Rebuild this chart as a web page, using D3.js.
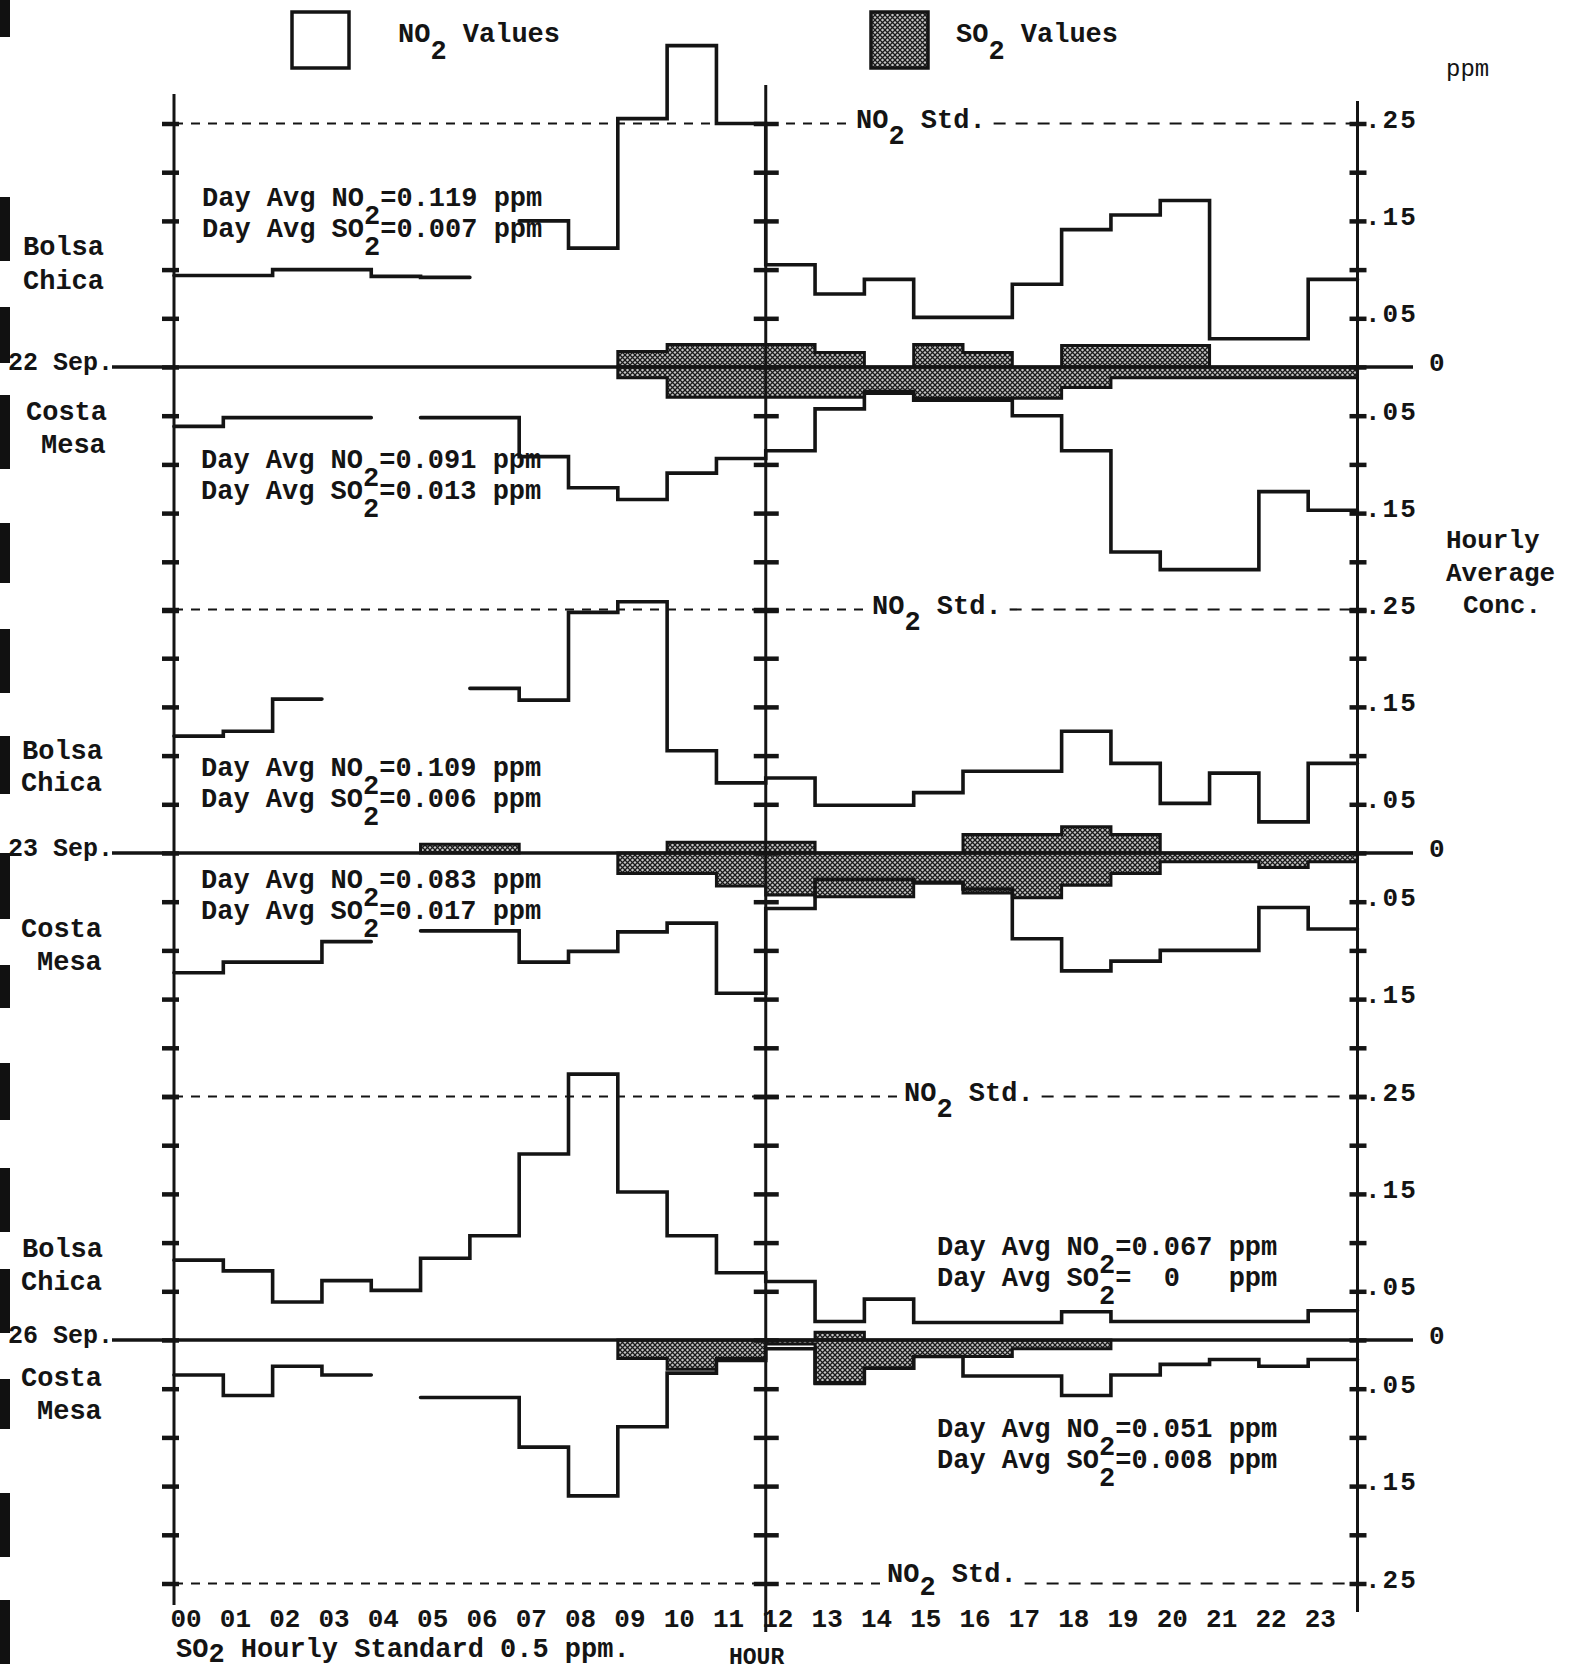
<!DOCTYPE html>
<html><head><meta charset="utf-8">
<script src="https://cdn.jsdelivr.net/npm/d3@7"></script>
<style>
body{margin:0;background:#fff;}
svg text{font-family:"Liberation Mono","Courier New",monospace;fill:#141414;font-weight:bold;}
</style></head><body>
<svg id="chart" width="1574" height="1672"></svg>
<script>
// ---------------- DATA ----------------
const hours = d3.range(24);
const hourLabels = ["00","01","02","03","04","05","06","07","08","09","10","11","12","13","14","15","16","17","18","19","20","21","22","23"];
const dayLabels = ["22 Sep.","23 Sep.","26 Sep."];
const stationUpper = ["Bolsa","Chica"];
const stationLower = ["Costa","Mesa"];

// NO2 hourly averages (ppm); null = missing hour
const bolsaNO2Sep22 = [0.094,0.094,0.100,0.100,0.093,0.092,null,0.150,0.122,0.255,0.330,0.250,0.105,0.075,0.090,0.051,0.051,0.085,0.141,0.156,0.171,0.029,0.029,0.090];
const costaNO2Sep22 = [0.061,0.052,0.052,0.052,null,0.052,0.052,0.092,0.124,0.136,0.109,0.094,0.086,0.043,0.027,0.034,0.034,0.050,0.086,0.190,0.208,0.208,0.128,0.147];
const bolsaNO2Sep23 = [0.120,0.125,0.158,null,null,null,0.169,0.157,0.247,0.258,0.105,0.072,0.077,0.049,0.049,0.062,0.084,0.084,0.125,0.092,0.051,0.082,0.032,0.092];
const costaNO2Sep23 = [0.123,0.112,0.112,0.091,null,0.080,0.080,0.112,0.101,0.081,0.072,0.144,0.057,0.027,0.027,0.030,0.037,0.088,0.121,0.111,0.100,0.100,0.056,0.078];
const bolsaNO2Sep26 = [0.082,0.071,0.039,0.061,0.051,0.084,0.107,0.191,0.273,0.152,0.107,0.069,0.060,0.019,0.042,0.018,0.018,0.018,0.029,0.019,0.019,0.019,0.019,0.030];
const costaNO2Sep26 = [0.036,0.057,0.027,0.036,null,0.059,0.059,0.110,0.160,0.089,0.034,0.021,0.009,0.044,0.029,0.017,0.037,0.037,0.057,0.036,0.025,0.020,0.027,0.020];

// SO2 hourly averages (ppm)
const bolsaSO2Sep22 = [0,0,0,0,0,0,0,0,0,0.016,0.023,0.023,0.023,0.015,0,0.023,0.015,0,0.022,0.022,0.022,0,0,0];
const costaSO2Sep22 = [0,0,0,0,0,0,0,0,0,0.011,0.031,0.031,0.031,0.031,0.025,0.032,0.032,0.032,0.021,0.011,0.011,0.011,0.011,0.011];
const bolsaSO2Sep23 = [0,0,0,0,0,0.009,0.009,0,0,0,0.011,0.011,0.011,0,0,0,0.019,0.019,0.027,0.019,0,0,0,0];
const costaSO2Sep23 = [0,0,0,0,0,0,0,0,0,0.021,0.021,0.034,0.043,0.045,0.045,0.031,0.041,0.046,0.033,0.021,0.009,0.009,0.015,0.009];
const bolsaSO2Sep26 = [0,0,0,0,0,0,0,0,0,0,0,0,0,0.008,0,0,0,0,0,0,0,0,0,0];
const costaSO2Sep26 = [0,0,0,0,0,0,0,0,0,0.019,0.030,0.019,0.004,0.045,0.029,0.017,0.017,0.009,0.009,0,0,0,0,0];

// Day averages (text)
const dayAvgNO2Bolsa = ["0.119","0.109","0.067"];
const dayAvgSO2Bolsa = ["0.007","0.006","\u00A0\u00A00\u00A0\u00A0"];
const dayAvgNO2Costa = ["0.091","0.083","0.051"];
const dayAvgSO2Costa = ["0.013","0.017","0.008"];

const tickValues = [-0.25,-0.2,-0.15,-0.1,-0.05,0,0.05,0.1,0.15,0.2,0.25];
const rightLabelValues = [0.25,0.15,0.05,0,-0.05,-0.15,-0.25];
const rightLabelText = [".25",".15",".05","0",".05",".15",".25"];

// ---------------- LAYOUT ----------------
const W = 1574, H = 1672;
const zeros = [367, 853, 1340];
const half = 243.5;
const layout = [
  {upAvg:[202,-161], lowAvg:[201,101], up:[-112,-78], lowLab:[53,86], upX:[23,23], lowX:[26,41], stdX:856},
  {upAvg:[201,-77],  lowAvg:[201,35],  up:[-94,-62],  lowLab:[84,117], upX:[22,21], lowX:[21,37], stdX:872},
  {upAvg:[937,-85],  lowAvg:[937,97],  up:[-83,-50],  lowLab:[46,79], upX:[22,21], lowX:[21,37], stdX:904}
];
const panels = [
  {bNO2:bolsaNO2Sep22,cNO2:costaNO2Sep22,bSO2:bolsaSO2Sep22,cSO2:costaSO2Sep22},
  {bNO2:bolsaNO2Sep23,cNO2:costaNO2Sep23,bSO2:bolsaSO2Sep23,cSO2:costaSO2Sep23},
  {bNO2:bolsaNO2Sep26,cNO2:costaNO2Sep26,bSO2:bolsaSO2Sep26,cSO2:costaSO2Sep26}
];

const svg = d3.select("#chart");
svg.append("rect").attr("width",W).attr("height",H).attr("fill","#fff");
const defs = svg.append("defs");
const pat = defs.append("pattern").attr("id","hatch").attr("patternUnits","userSpaceOnUse").attr("width",5).attr("height",5);
pat.append("rect").attr("width",5).attr("height",5).attr("fill","#c4c4c4");
pat.append("path").attr("d","M0,0L5,5M5,0L0,5").attr("stroke","#1a1a1a").attr("stroke-width",1.25);

const INK = "#141414";
const FS = 27;
const x = d3.scaleLinear().domain([0,24]).range([174,1357.5]);

// decorative scan margin marks
const scanMarks = [[0,37],[197,261],[307,363],[395,469],[523,583],[629,693],[736,794],[853,919],[965,1008],[1063,1120],[1168,1232],[1269,1333],[1379,1429],[1493,1557],[1600,1664]];
svg.append("g").selectAll("rect").data(scanMarks).join("rect")
  .attr("x",0).attr("y",d=>d[0]).attr("width",10).attr("height",d=>d[1]-d[0]).attr("fill","#111");

function subText(g, xx, yy, before, sub, after, size, dy){
  const t = g.append("text").attr("x",xx).attr("y",yy).attr("font-size",size);
  t.append("tspan").text(before);
  t.append("tspan").attr("dy",dy).text(sub);
  t.append("tspan").attr("dy",-dy).text(after);
  return t;
}

function steps(vals){
  const pts=[];
  vals.forEach((v,i)=>{pts.push({h:i,v:v});pts.push({h:i+1,v:v});});
  return pts;
}

// Legend
svg.append("rect").attr("x",292).attr("y",12).attr("width",57).attr("height",56)
  .attr("fill","#fff").attr("stroke",INK).attr("stroke-width",3.5);
subText(svg,398,42,"NO","2","\u00A0Values",FS,17);
svg.append("rect").attr("x",871).attr("y",12).attr("width",57).attr("height",56)
  .attr("fill","url(#hatch)").attr("stroke",INK).attr("stroke-width",3.5);
subText(svg,956,42,"SO","2","\u00A0Values",FS,17);
svg.append("text").attr("x",1446).attr("y",76).attr("font-size",24).style("font-weight","normal").text("ppm");
["Hourly","Average","Conc."].forEach((s,i)=>{
  svg.append("text").attr("x",i===2?1463:1446).attr("y",[548,581,613][i]).attr("font-size",26).text(s);
});

const gBands = svg.append("g");
const gLines = svg.append("g");
const gAxes = svg.append("g");
const gText = svg.append("g");

panels.forEach((p,k)=>{
  const z = zeros[k];
  const y = d3.scaleLinear().domain([-0.25,0.25]).range([z+half, z-half]);
  const L = layout[k];

  // SO2 bands
  [[p.bSO2,1],[p.cSO2,-1]].forEach(([vals,s])=>{
    const area = d3.area().defined(d=>d.v>0).x(d=>x(d.h)).y0(y(0)).y1(d=>y(s*d.v));
    gBands.append("path").attr("d",area(steps(vals)))
      .attr("fill","url(#hatch)").attr("stroke",INK).attr("stroke-width",3).attr("stroke-linejoin","miter");
  });
  // NO2 lines
  [[p.bNO2,1],[p.cNO2,-1]].forEach(([vals,s])=>{
    const line = d3.line().defined(d=>d.v!=null).x(d=>x(d.h)).y(d=>y(s*d.v));
    gLines.append("path").attr("d",line(steps(vals)))
      .attr("fill","none").attr("stroke",INK).attr("stroke-width",3.6)
      .attr("stroke-linecap","round").attr("stroke-linejoin","miter");
  });
  // zero line
  gAxes.append("line").attr("x1",112).attr("x2",1413).attr("y1",y(0)).attr("y2",y(0))
    .attr("stroke",INK).attr("stroke-width",3.6);

  // ticks via d3 axes
  const ax1 = gAxes.append("g").attr("transform",`translate(${x(0)+5},0)`)
    .call(d3.axisLeft(y).tickValues(tickValues).tickSize(17).tickFormat(""));
  const ax2 = gAxes.append("g").attr("transform",`translate(${x(12)-12},0)`)
    .call(d3.axisRight(y).tickValues(tickValues).tickSize(25).tickFormat(""));
  const ax3 = gAxes.append("g").attr("transform",`translate(${x(24)-8},0)`)
    .call(d3.axisRight(y).tickValues(tickValues).tickSize(17).tickFormat(""));
  [ax1,ax2,ax3].forEach(a=>{
    a.select(".domain").remove();
    a.selectAll("line").attr("stroke",INK).attr("stroke-width",4.5);
  });

  // right axis labels
  rightLabelValues.forEach((v,i)=>{
    if (v===-0.25 && k<2) return;
    gText.append("text").attr("x", v===0 ? 1429 : 1365).attr("y", y(v)-3)
      .attr("dominant-baseline","central").attr("font-size",26)
      .attr("letter-spacing", v===0?0:2).text(rightLabelText[i]);
  });

  // NO2 standard dashed lines
  const stdVals = k===2 ? [0.25,-0.25] : [0.25];
  stdVals.forEach(v=>{
    const yy = y(v);
    const lx = v===0.25 ? L.stdX : 887;
    const t = v===0.25 ? subText(gText, lx, yy+4, "NO","2","\u00A0Std.",FS,16)
                       : subText(gText, lx, yy-2, "NO","2","\u00A0Std.",FS,13);
    const w = t.node().getComputedTextLength();
    gAxes.append("line").attr("x1",x(0)).attr("x2",lx-4).attr("y1",yy).attr("y2",yy)
      .attr("stroke",INK).attr("stroke-width",2.2).attr("stroke-dasharray","9,8");
    gAxes.append("line").attr("x1",lx+w+8).attr("x2",x(24)).attr("y1",yy).attr("y2",yy)
      .attr("stroke",INK).attr("stroke-width",2.2).attr("stroke-dasharray","12,10");
  });

  // Day averages
  subText(gText, L.upAvg[0], z+L.upAvg[1], "Day Avg NO","2","="+dayAvgNO2Bolsa[k]+"\u00A0ppm",FS,18);
  subText(gText, L.upAvg[0], z+L.upAvg[1]+31, "Day Avg SO","2","="+dayAvgSO2Bolsa[k]+"\u00A0ppm",FS,18);
  subText(gText, L.lowAvg[0], z+L.lowAvg[1], "Day Avg NO","2","="+dayAvgNO2Costa[k]+"\u00A0ppm",FS,18);
  subText(gText, L.lowAvg[0], z+L.lowAvg[1]+31, "Day Avg SO","2","="+dayAvgSO2Costa[k]+"\u00A0ppm",FS,18);

  // left labels
  stationUpper.forEach((s,i)=>gText.append("text").attr("x",L.upX[i]).attr("y",z+L.up[i]).attr("font-size",FS).text(s));
  stationLower.forEach((s,i)=>gText.append("text").attr("x",L.lowX[i]).attr("y",z+L.lowLab[i]).attr("font-size",FS).text(s));
  gText.append("text").attr("x",8).attr("y",z+3).attr("font-size",25).text(dayLabels[k]);
});

// vertical axes
[[0,94,1605],[12,85,1632],[24,101,1612]].forEach(([h,t,b])=>{
  gAxes.append("line").attr("x1",x(h)).attr("x2",x(h)).attr("y1",t).attr("y2",b)
    .attr("stroke",INK).attr("stroke-width",3);
});

// hour axis
const hx = svg.append("g").attr("transform","translate(0,1627)")
  .call(d3.axisBottom(x).tickValues(hours).tickSize(0).tickFormat(i=>hourLabels[i]));
hx.select(".domain").remove();
hx.selectAll("text").attr("y",0).attr("dy",0).attr("dx",-4).attr("text-anchor","start")
  .attr("font-size",26).attr("fill",INK)
  .style("font-family","'Liberation Mono','Courier New',monospace").style("font-weight","bold");

subText(svg,176,1657,"SO","2","\u00A0Hourly Standard 0.5 ppm.",FS,5);
svg.append("text").attr("x",729).attr("y",1664).attr("font-size",23).text("HOUR");
</script>
</body></html>
